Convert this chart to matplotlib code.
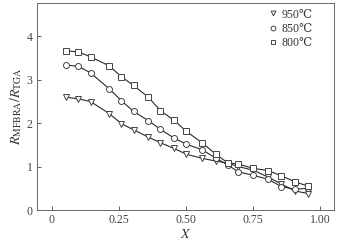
import matplotlib
matplotlib.use("Agg")
import matplotlib.pyplot as plt

plt.rcParams['font.family'] = ['Liberation Serif', 'DejaVu Serif']
plt.rcParams['mathtext.fontset'] = 'stix'

# conversion X, shared by all three series
x = [0.055, 0.10, 0.145, 0.215, 0.26, 0.305, 0.36, 0.405, 0.455, 0.50,
     0.56, 0.61, 0.655, 0.695, 0.75, 0.805, 0.855, 0.905, 0.955]

r_950 = [2.60, 2.56, 2.50, 2.22, 1.99, 1.85, 1.68, 1.55, 1.42, 1.29,
         1.19, 1.13, 1.08, 1.00, 0.92, 0.76, 0.60, 0.44, 0.38]
r_850 = [3.34, 3.31, 3.16, 2.79, 2.52, 2.27, 2.06, 1.86, 1.66, 1.52,
         1.39, 1.20, 1.04, 0.88, 0.80, 0.71, 0.54, 0.48, 0.50]
r_800 = [3.67, 3.64, 3.53, 3.32, 3.07, 2.87, 2.60, 2.29, 2.07, 1.82,
         1.55, 1.29, 1.09, 1.06, 0.96, 0.91, 0.79, 0.65, 0.55]

labels = ['950℃', '850℃', '800℃']
markers = ['v', 'o', 's']

fig = plt.figure(figsize=(3.4, 2.42), dpi=100)
ax = fig.add_axes([0.108, 0.132, 0.874, 0.854])

for y, lab, m in zip([r_950, r_850, r_800], labels, markers):
    # line without label, marker-only entry for the legend
    ax.plot(x, y, '-', color='#2a2a2a', lw=0.8, zorder=2)
    ax.plot(x, y, m, ls='none', ms=4.3, mfc='white', mec='#444444', mew=0.7,
            label=lab, zorder=3)

ax.set_xlim(-0.055, 1.05)
ax.set_ylim(0, 4.76)
ax.set_xticks([0, 0.25, 0.5, 0.75, 1.0])
ax.set_xticklabels(['0', '0.25', '0.50', '0.75', '1.00'])
ax.set_yticks([0, 1, 2, 3, 4])
ax.tick_params(direction='in', length=3, width=0.6, labelsize=8.5,
               colors='#444444', pad=3)

for s in ax.spines.values():
    s.set_linewidth(0.7)
    s.set_color('#666666')

ax.set_xlabel('$X$', fontsize=10, labelpad=1, color='#333333')
ax.set_ylabel(r'$R_{\mathrm{MFBRA}}/R_{\mathrm{TGA}}$', fontsize=10,
              labelpad=2, color='#333333')

leg = ax.legend(loc='upper right', bbox_to_anchor=(0.93, 0.975),
                frameon=False, fontsize=8.5, borderpad=0,
                handletextpad=0.3, handlelength=1.0, labelspacing=0.2,
                borderaxespad=0, markerscale=0.8)
for t in leg.get_texts():
    t.set_color('#333333')

fig.savefig('out.png', dpi=100)
